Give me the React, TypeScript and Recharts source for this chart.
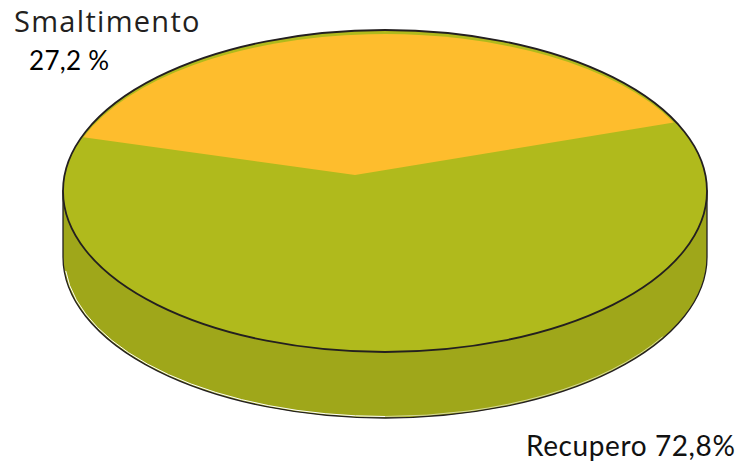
import React from "react";
import { Pie, PieChart } from "recharts";

// Waste treatment shares, in percent
const categories = ["Recupero", "Smaltimento"];
const shares = [72.8, 27.2];
const shareLabels = ["72,8%", "27,2 %"];
const sliceColors = ["#B0BA1C", "#FEBD2D"];
const SIDE_COLOR = "#9FA71A";
const OUTLINE = "#231F20";

const rows = categories.map((name, i) => ({ name, value: shares[i], fill: sliceColors[i] }));

// Projection of the disc: outline flattened by half, slice edges laid back further
const FLATTEN = 0.5;
const EDGE_TILT = 0.174;
const DEPTH = 66;
const HUB_DX = -30;
const HUB_DY = -16;
const INSET_X = 1;
const INSET_Y = 4;

const rad = (deg: number) => (deg * Math.PI) / 180;

// Where a ray leaving the hub at a pie angle meets the given ellipse
function rimPoint(deg: number, cx: number, cy: number, rx: number, ry: number) {
  const dx = Math.cos(rad(deg));
  const dy = -EDGE_TILT * Math.sin(rad(deg));
  const ox = HUB_DX / rx;
  const oy = HUB_DY / ry;
  const ux = dx / rx;
  const uy = dy / ry;
  const a = ux * ux + uy * uy;
  const b = 2 * (ox * ux + oy * uy);
  const c = ox * ox + oy * oy - 1;
  const t = (-b + Math.sqrt(b * b - 4 * a * c)) / (2 * a);
  return { x: cx + HUB_DX + dx * t, y: cy + HUB_DY + dy * t };
}

// Point on an ellipse, angle measured clockwise from its left end through the bottom
function lowerRim(deg: number, cx: number, cy: number, rx: number, ry: number) {
  return { x: cx - rx * Math.cos(rad(deg)), y: cy + ry * Math.sin(rad(deg)) };
}

function DiscSlice(props: any) {
  const { cx, cy, outerRadius, startAngle, endAngle, fill, index } = props;
  const rx = outerRadius;
  const ry = outerRadius * FLATTEN;
  if (index === 0) {
    // The larger slice doubles as the body of the disc
    const left = cx - rx;
    const right = cx + rx;
    const low = cy + DEPTH;
    const hx = rx - 1.5;
    const hy = ry - 1.5;
    const glintA = lowerRim(5, cx, low, hx, hy);
    const glintB = lowerRim(90, cx, low, hx, hy);
    const glintC = lowerRim(150, cx, low, hx, hy);
    return (
      <g>
        <path
          d={`M${left},${cy} L${left},${low} A${rx},${ry} 0 0 0 ${right},${low} L${right},${cy} Z`}
          fill={SIDE_COLOR}
          stroke={OUTLINE}
          strokeWidth={1.3}
        />
        <path
          d={`M${glintA.x},${glintA.y} A${hx},${hy} 0 0 0 ${glintB.x},${glintB.y}`}
          fill="none"
          stroke="#FFFFFF"
          strokeWidth={1}
        />
        <path
          d={`M${glintB.x},${glintB.y} A${hx},${hy} 0 0 0 ${glintC.x},${glintC.y}`}
          fill="none"
          stroke="#FFFFFF"
          strokeWidth={0.7}
          strokeOpacity={0.8}
        />
        <ellipse cx={cx} cy={cy} rx={rx} ry={ry} fill={fill} stroke={OUTLINE} strokeWidth={1.8} />
      </g>
    );
  }
  const irx = rx - INSET_X;
  const iry = ry - INSET_Y;
  const from = rimPoint(startAngle, cx, cy, irx, iry);
  const to = rimPoint(endAngle, cx, cy, irx, iry);
  return (
    <path
      d={`M${cx + HUB_DX},${cy + HUB_DY} L${from.x},${from.y} A${irx},${iry} 0 0 0 ${to.x},${to.y} Z`}
      fill={fill}
    />
  );
}

export default function App() {
  return (
    <div style={{ position: "absolute", left: 0, top: 0, width: 744, height: 468, background: "#fff" }}>
      <PieChart width={744} height={468} margin={{ top: 0, right: 0, bottom: 0, left: 0 }}>
        <Pie
          data={rows}
          dataKey="value"
          nameKey="name"
          cx={385}
          cy={191}
          innerRadius={0}
          outerRadius={322}
          startAngle={141.4}
          endAngle={501.4}
          stroke="none"
          shape={DiscSlice}
          isAnimationActive={false}
        />
        <text x={14} y={31.5} fontFamily="Open Sans" fontSize={29} fill="#231F20" letterSpacing={1.3}>
          {categories[1]}
        </text>
        <text x={29} y={69.5} fontFamily="Lato" fontSize={26} fill="#000" letterSpacing={0.3}>
          {shareLabels[1]}
        </text>
        <text x={526} y={455.5} fontFamily="Lato" fontSize={28} fill="#111" letterSpacing={0.6}>
          {`${categories[0]} ${shareLabels[0]}`}
        </text>
      </PieChart>
    </div>
  );
}
